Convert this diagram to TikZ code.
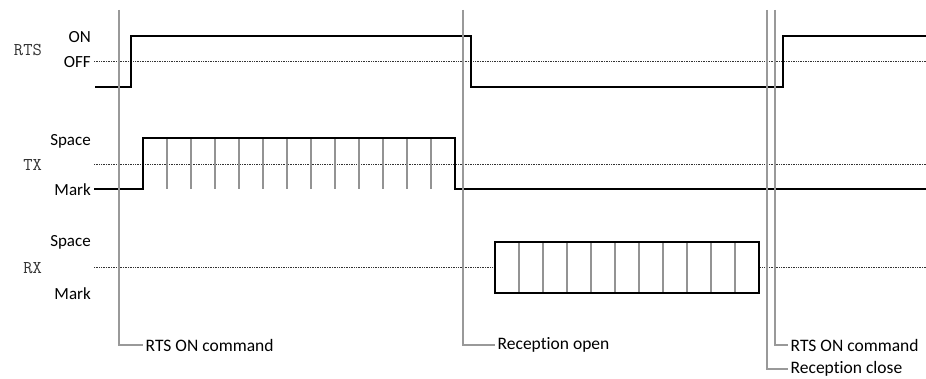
\documentclass[tikz,border=0pt]{standalone}
\usepackage{fontspec}
\setmainfont{Carlito}[Ligatures={NoCommon}]
\begin{document}
\begin{tikzpicture}[x=1pt,y=-1pt,
  signal/.style={line width=2.8pt,line join=miter,black},
  bitline/.style={line width=1.2pt,gray!85},
  refline/.style={line width=0.7pt,densely dotted,black!80},
  marker/.style={line width=1.3pt,gray!80},
  level/.style={font=\fontsize{17}{17}\selectfont,anchor=east,inner sep=1pt},
  signame/.style={font=\ttfamily\fontsize{18}{18}\selectfont,anchor=east,inner sep=0pt,text=black!80},
  event/.style={font=\fontsize{17.5}{17.5}\selectfont,anchor=west,inner xsep=2.5pt,inner ysep=1pt}]
\useasboundingbox (0,0) rectangle (926,379);

% ---- RTS ----
\node[signame] (rts) at (42,50) {RTS};
\node[level] (rtson) at (92,37) {ON};
\node[level] (rtsoff) at (92,62) {OFF};
\draw[refline] (94,61) -- (926,61);
\draw[signal] (95,87) -- (131,87) -- (131,36) -- (471,36) -- (471,87)
  -- (783,87) -- (783,36) -- (926,36);

% ---- TX ----
\node[signame] (tx) at (42,165) {TX};
\node[level] (txspace) at (92,141) {Space};
\node[level] (txmark) at (92,190) {Mark};
\draw[refline] (94,164) -- (926,164);
\foreach \i in {1,...,12}
  \draw[bitline] ({143+24*\i},138) -- ({143+24*\i},189);
\draw[signal] (94,189) -- (143,189) -- (143,138) -- (455,138) -- (455,189) -- (926,189);

% ---- RX ----
\node[signame] (rx) at (42,268) {RX};
\node[level] (rxspace) at (92,242) {Space};
\node[level] (rxmark) at (92,294) {Mark};
\draw[refline] (94,267) -- (926,267);
\fill[white] (495,242) rectangle (759,293);
\foreach \i in {1,...,10}
  \draw[bitline] ({495+24*\i},242) -- ({495+24*\i},293);
\draw[signal] (495,242) rectangle (759,293);

% ---- event markers ----
\node[event] (ev1) at (143,345) {RTS ON command};
\node[event] (ev2) at (495,345) {Reception open};
\node[event] (ev3) at (788,345) {RTS ON command};
\node[event] (ev4) at (788,369) {Reception close};
\coordinate (t1) at (119,10);
\coordinate (t2) at (463,10);
\coordinate (t3) at (775,10);
\coordinate (t4) at (767,10);
\draw[marker] (t1) |- (ev1.west);
\draw[marker] (t2) |- (ev2.west);
\draw[marker] (t3) |- (ev3.west);
\draw[marker] (t4) |- (ev4.west);
\end{tikzpicture}
\end{document}
